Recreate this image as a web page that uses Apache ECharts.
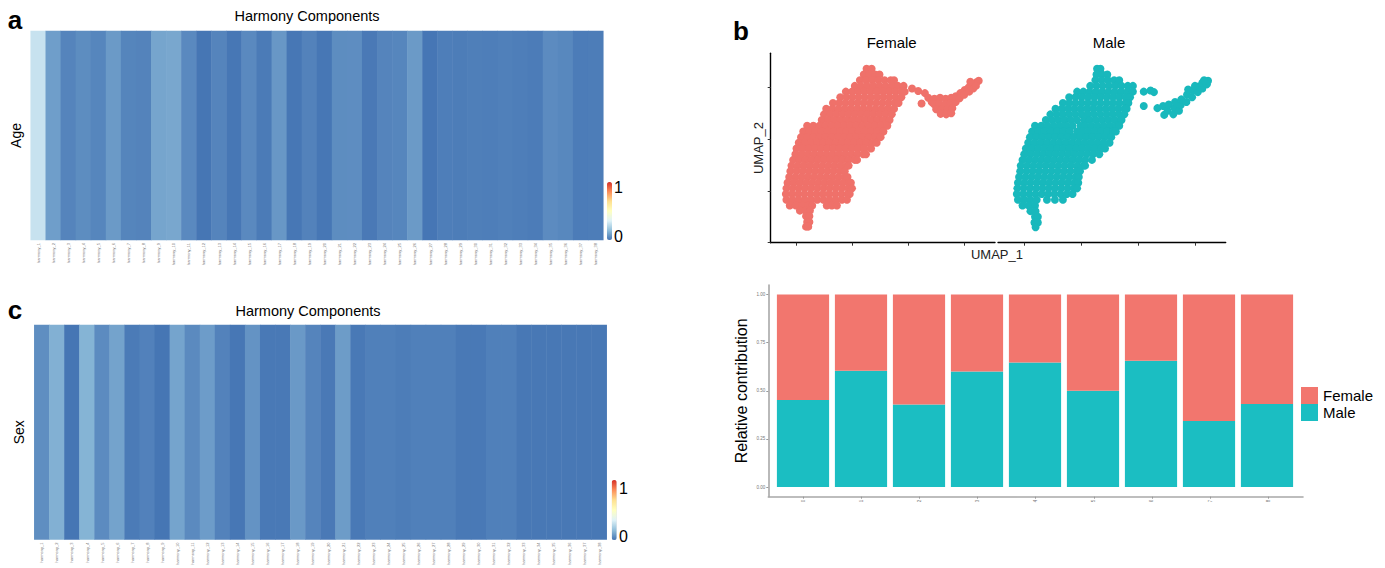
<!DOCTYPE html>
<html>
<head>
<meta charset="utf-8">
<title>Harmony components / UMAP by sex</title>
<script src="https://cdn.jsdelivr.net/npm/echarts@6.0.0/dist/echarts.min.js"></script>
<style>
    html, body { margin: 0; padding: 0; background: #fff; }
    #chart { width: 1385px; height: 568px; }
</style>
</head>
<body>
<div id="chart"></div>
<script>
// 横轴标签：harmony 成分
const componentLabels = [
    "harmony_1", "harmony_2", "harmony_3", "harmony_4", "harmony_5", "harmony_6", "harmony_7",
    "harmony_8", "harmony_9", "harmony_10", "harmony_11", "harmony_12", "harmony_13", "harmony_14",
    "harmony_15", "harmony_16", "harmony_17", "harmony_18", "harmony_19", "harmony_20", "harmony_21",
    "harmony_22", "harmony_23", "harmony_24", "harmony_25", "harmony_26", "harmony_27", "harmony_28",
    "harmony_29", "harmony_30", "harmony_31", "harmony_32", "harmony_33", "harmony_34", "harmony_35",
    "harmony_36", "harmony_37", "harmony_38"
];

// 每个成分与 Age / Sex 的关联 (0 ~ 1)
const ageValues = [
    0.28, 0.093, 0.034, 0.053, 0.038, 0.083, 0.036, 0.032, 0.107, 0.113,
    0.046, 0.002, 0.034, 0.005, 0.046, 0.013, 0.077, 0.004, 0.03, 0.004,
    0.053, 0.055, 0.01, 0.034, 0.038, 0.083, 0.003, 0.02, 0.018, 0.022,
    0.02, 0.024, 0.02, 0.015, 0.05, 0.042, 0.016, 0.017
];
const sexValues = [
    0.057, 0.133, 0.002, 0.141, 0.05, 0.103, 0.013, 0.028, 0.002, 0.105,
    0.048, 0.088, 0.03, 0.004, 0.068, 0.008, 0.008, 0.082, 0.034, 0.01,
    0.087, 0.008, 0.025, 0.025, 0.018, 0.024, 0.024, 0.024, 0.008, 0.008,
    0.025, 0.025, 0.006, 0.006, 0.006, 0.006, 0.006, 0.006
];

// UMAP 细胞坐标，按行记录：[UMAP_2, UMAP_1, UMAP_1, ...]
const femaleRows = [
    [6.8, -3.75, -3.3],
    [6.25, -4.0, -3.5, -3.0, -2.6],
    [5.7, -4.35, -3.8, -3.25, -2.7, -2.15, -1.6, -1.3],
    [5.15, -4.8, -4.25, -3.7, -3.15, -2.6, -2.05, -1.5, -0.95, -0.45],
    [4.6, -5.6, -5.05, -4.5, -3.95, -3.4, -2.85, -2.3, -1.75, -1.2, -0.65, -0.35],
    [4.05, -6.1, -5.55, -5.0, -4.45, -3.9, -3.35, -2.8, -2.25, -1.7, -1.15, -0.65],
    [3.5, -6.75, -6.2, -5.65, -5.1, -4.55, -4.0, -3.45, -2.9, -2.35, -1.8, -1.25, -0.9],
    [2.95, -7.35, -6.8, -6.25, -5.7, -5.15, -4.6, -4.05, -3.5, -2.95, -2.4, -1.85, -1.3],
    [2.4, -7.55, -7.0, -6.45, -5.9, -5.35, -4.8, -4.25, -3.7, -3.15, -2.6, -2.05, -1.5],
    [1.85, -7.75, -7.2, -6.65, -6.1, -5.55, -5.0, -4.45, -3.9, -3.35, -2.8, -2.25, -1.7],
    [1.3, -9.05, -8.5, -7.95, -7.4, -6.85, -6.3, -5.75, -5.2, -4.65, -4.1, -3.55, -3.0, -2.45, -1.9],
    [0.75, -9.4, -8.85, -8.3, -7.75, -7.2, -6.65, -6.1, -5.55, -5.0, -4.45, -3.9, -3.35, -2.8, -2.25],
    [0.2, -9.6, -9.05, -8.5, -7.95, -7.4, -6.85, -6.3, -5.75, -5.2, -4.65, -4.1, -3.55, -3.0, -2.5],
    [-0.35, -9.8, -9.25, -8.7, -8.15, -7.6, -7.05, -6.5, -5.95, -5.4, -4.85, -4.3, -3.75, -3.2, -2.85],
    [-0.9, -10.0, -9.45, -8.9, -8.35, -7.8, -7.25, -6.7, -6.15, -5.6, -5.05, -4.5, -3.95, -3.35],
    [-1.45, -10.1, -9.55, -9.0, -8.45, -7.9, -7.35, -6.8, -6.25, -5.7, -5.15, -4.6, -4.05, -3.8],
    [-2.0, -10.3, -9.75, -9.2, -8.65, -8.1, -7.55, -7.0, -6.45, -5.9, -5.35, -4.8, -4.6],
    [-2.55, -10.45, -9.9, -9.35, -8.8, -8.25, -7.7, -7.15, -6.6, -6.05, -5.5, -5.35],
    [-3.1, -10.55, -10.0, -9.45, -8.9, -8.35, -7.8, -7.25, -6.7, -6.15, -5.7],
    [-3.65, -10.65, -10.1, -9.55, -9.0, -8.45, -7.9, -7.35, -6.8, -6.25, -5.7, -5.45],
    [-4.2, -10.8, -10.25, -9.7, -9.15, -8.6, -8.05, -7.5, -6.95, -6.4, -5.85, -5.3, -5.15],
    [-4.75, -10.9, -10.35, -9.8, -9.25, -8.7, -8.15, -7.6, -7.05, -6.5, -5.95, -5.4, -5.05],
    [-5.3, -10.95, -10.4, -9.85, -9.3, -8.75, -8.2, -7.65, -7.1, -6.55, -6.0, -5.45, -5.25],
    [-5.85, -10.9, -10.35, -9.8, -9.25, -8.7, -8.15, -7.6, -7.05, -6.5, -5.95, -5.5],
    [-6.4, -10.6, -10.05, -9.5, -8.95, -8.6, -7.3, -6.85, -6.4],
    [-6.9, -9.7, -9.2, -8.8],
    [-7.45, -9.15, -8.85],
    [-8.0, -9.05, -8.85],
    [-8.45, -9.15, -8.95]
];
const femaleIsland = [
    [0.3, 4.9], [0.85, 4.65], [1.45, 4.45], [1.15, 3.45], [1.75, 4.0], [2.05, 3.6],
    [2.3, 3.9], [2.8, 4.0], [3.3, 3.9], [3.8, 4.0],
    [2.25, 3.4], [2.75, 3.4], [3.25, 3.4], [3.75, 3.5], [4.2, 3.6],
    [2.45, 2.9], [2.95, 2.9], [3.45, 2.9], [3.9, 3.0],
    [2.85, 2.45], [3.35, 2.4], [3.8, 2.5],
    [4.2, 4.15], [4.6, 4.45], [4.55, 3.95], [5.0, 4.75], [4.95, 4.3], [5.35, 5.0],
    [5.4, 4.6], [5.7, 5.3], [5.75, 4.9], [6.05, 5.5], [6.25, 5.65], [5.5, 5.55], [6.0, 5.15]
];
const maleRows = [
    [6.8, -3.6, -3.3],
    [6.25, -3.65, -3.15, -2.7],
    [5.7, -3.75, -3.2, -2.65, -2.1, -1.65],
    [5.15, -4.2, -3.65, -3.1, -2.55, -2.0, -1.45, -0.9, -0.45],
    [4.6, -5.35, -4.8, -4.25, -3.7, -3.15, -2.6, -2.05, -1.5, -0.95, -0.45],
    [4.05, -6.05, -5.5, -4.95, -4.4, -3.85, -3.3, -2.75, -2.2, -1.65, -1.1, -0.7],
    [3.5, -6.6, -6.05, -5.5, -4.95, -4.4, -3.85, -3.3, -2.75, -2.2, -1.65, -1.1, -0.85],
    [2.95, -7.25, -6.7, -6.15, -5.6, -5.05, -4.5, -3.95, -3.4, -2.85, -2.3, -1.75, -1.2, -1.0],
    [2.4, -7.7, -7.15, -6.6, -6.05, -5.5, -4.95, -4.4, -3.85, -3.3, -2.75, -2.2, -1.65, -1.2],
    [1.85, -8.1, -7.55, -7.0, -6.45, -5.9, -5.35, -4.7, -4.25, -3.7, -3.15, -2.6, -2.05, -1.45],
    [1.3, -9.05, -8.5, -7.95, -7.4, -6.85, -6.3, -5.75, -5.05, -4.65, -4.1, -3.55, -3.0, -2.45, -1.9, -1.65],
    [0.75, -9.3, -8.75, -8.2, -7.65, -7.1, -6.55, -6.0, -5.35, -4.9, -4.35, -3.8, -3.25, -2.7, -2.15, -1.95],
    [0.2, -9.5, -8.95, -8.4, -7.85, -7.3, -6.75, -6.2, -5.65, -5.1, -4.55, -4.0, -3.45, -2.9, -2.35],
    [-0.35, -9.65, -9.1, -8.55, -8.0, -7.45, -6.9, -6.35, -5.8, -5.25, -4.7, -4.15, -3.6, -3.05, -2.5],
    [-0.9, -9.85, -9.3, -8.75, -8.2, -7.65, -7.1, -6.55, -6.0, -5.45, -4.9, -4.35, -3.8, -3.25, -2.9],
    [-1.45, -10.0, -9.45, -8.9, -8.35, -7.8, -7.25, -6.7, -6.15, -5.6, -5.05, -4.5, -3.95, -3.4],
    [-2.0, -10.15, -9.6, -9.05, -8.5, -7.95, -7.4, -6.85, -6.3, -5.75, -5.2, -4.65, -4.05],
    [-2.55, -10.3, -9.75, -9.2, -8.65, -8.1, -7.55, -7.0, -6.45, -5.9, -5.35, -4.8, -4.65],
    [-3.1, -10.35, -9.8, -9.25, -8.7, -8.15, -7.6, -7.05, -6.5, -5.95, -5.4, -5.1],
    [-3.65, -10.45, -9.9, -9.35, -8.8, -8.25, -7.7, -7.15, -6.6, -6.05, -5.5, -5.2],
    [-4.2, -10.55, -10.0, -9.45, -8.9, -8.35, -7.8, -7.25, -6.7, -6.15, -5.6, -5.25],
    [-4.75, -10.6, -10.05, -9.5, -8.95, -8.4, -7.85, -7.3, -6.75, -6.2, -5.65, -5.35],
    [-5.3, -10.65, -10.1, -9.55, -9.0, -8.45, -7.9, -7.35, -6.8, -6.25, -5.75],
    [-5.85, -10.55, -10.0, -9.45, -8.9, -8.0, -7.3, -6.6],
    [-6.4, -10.15, -9.6, -9.05],
    [-6.95, -9.45, -9.0],
    [-7.5, -9.05, -8.8],
    [-8.05, -9.1, -8.8],
    [-8.5, -9.0]
];
const maleIsland = [
    [0.5, 4.6], [1.1, 4.7], [1.4, 4.55], [0.5, 3.2], [2.3, 2.35],
    [1.7, 3.0], [2.2, 3.2], [2.6, 2.75], [3.1, 2.4], [2.7, 3.35], [3.2, 3.0], [3.6, 2.75],
    [3.25, 3.6], [3.75, 3.3], [3.8, 3.85], [4.25, 3.6], [4.3, 4.3], [4.75, 4.05],
    [4.8, 4.7], [5.25, 4.55], [5.3, 5.1], [5.65, 4.9], [5.65, 5.45], [6.05, 5.3],
    [6.15, 5.65], [5.8, 5.7], [4.4, 4.8], [5.0, 5.15]
];

// 各 cluster 中男女细胞占比
const clusterIds = [0, 1, 2, 3, 4, 5, 6, 7, 8];
const clusterNames = ["0", "1", "2", "3", "4", "5", "6", "7", "8"];
const maleShare = [0.453, 0.605, 0.429, 0.6, 0.647, 0.5, 0.656, 0.343, 0.432];
const femaleShare = [0.547, 0.395, 0.571, 0.4, 0.353, 0.5, 0.344, 0.657, 0.568];
const shareTicks = [0, 0.25, 0.5, 0.75, 1];
const umapTicksX = [-10, -5, 0, 5];
const umapTicksY = [-10, -5, 0, 5];

const FONT = "\"Liberation Sans\", Arial, sans-serif";
const heatColors = ["#4575B4", "#91BFDB", "#E0F3F8", "#FFFFBF", "#FEE090", "#FC8D59", "#D73027"];
const femaleColor = "#EF716A";
const maleColor = "#18B8BC";

const rowsToPoints = rows => {
    let pts = [];
    rows.forEach(row => {
        for (let i = 1; i < row.length; i++) {
            pts.push([row[i], row[0]]);
        }
    });
    return pts;
};

const heatData = values => values.map((v, i) => [i, 0, v]);

const label = (text, x, y, font, extra) => {
    return {
        type: "text",
        x: x,
        y: y,
        silent: true,
        style: Object.assign({
            text: text,
            font: font + " " + FONT,
            fill: "#000",
            align: "center",
            verticalAlign: "middle"
        }, extra || {})
    };
};

const heatXAxis = gridIndex => ({
    type: "category",
    gridIndex: gridIndex,
    data: componentLabels,
    axisLine: { show: false },
    axisTick: { show: false },
    splitArea: { show: false },
    axisLabel: { rotate: 90, fontSize: 4, color: "#777", interval: 0, margin: 3, fontFamily: FONT }
});

const heatYAxis = (gridIndex, name) => ({
    type: "category",
    gridIndex: gridIndex,
    data: [name],
    axisLine: { show: false },
    axisTick: { show: false },
    axisLabel: { show: false },
    name: name,
    nameLocation: "middle",
    nameGap: 8,
    nameRotate: 90,
    nameTextStyle: { fontSize: 14, color: "#000", fontFamily: FONT }
});

const umapXAxis = gridIndex => ({
    type: "value",
    gridIndex: gridIndex,
    min: -12.3,
    max: 7.7,
    splitLine: { show: false },
    axisLine: { show: true, onZero: false, lineStyle: { color: "#000", width: 1.4 } },
    axisTick: { show: true, customValues: umapTicksX, length: 3, lineStyle: { color: "#333", width: 1 } },
    axisLabel: { show: false }
});

const chart = echarts.init(document.getElementById("chart"), null, { renderer: "svg" });

const option = {
    animation: false,
    backgroundColor: "#fff",
    textStyle: { fontFamily: FONT },
    grid: [
        { left: 30.7, top: 31, width: 572.6, height: 209 },
        { left: 34.3, top: 325, width: 572.4, height: 214.5 },
        { left: 770.7, top: 53.3, width: 224.3, height: 189.4 },
        { left: 998, top: 53.3, width: 227.7, height: 189.4 },
        // 条形图的坐标轴（ggplot 两侧各留 0.6 个类目）
        { left: 768.3, top: 285, width: 534.7, height: 211.7 },
        // 条形本身所在的区域
        { left: 774, top: 285, width: 522, height: 211.7 }
    ],
    xAxis: [
        heatXAxis(0),
        heatXAxis(1),
        umapXAxis(2),
        umapXAxis(3),
        {
            type: "value",
            gridIndex: 4,
            min: -0.6,
            max: 8.6,
            splitLine: { show: false },
            axisLine: { show: true, onZero: false, lineStyle: { color: "#a8a8a8", width: 1.6 } },
            axisTick: { show: true, customValues: clusterIds, length: 2, lineStyle: { color: "#999" } },
            axisLabel: { customValues: clusterIds, rotate: 90, fontSize: 4.5, color: "#777", margin: 3 }
        },
        {
            type: "category",
            gridIndex: 5,
            data: clusterNames,
            show: false
        }
    ],
    yAxis: [
        heatYAxis(0, "Age"),
        heatYAxis(1, "Sex"),
        {
            type: "value",
            gridIndex: 2,
            min: -10,
            max: 8.3,
            splitLine: { show: false },
            axisLine: { show: true, onZero: false, lineStyle: { color: "#000", width: 1.4 } },
            axisTick: { show: true, customValues: umapTicksY, length: 3, lineStyle: { color: "#333", width: 1 } },
            axisLabel: { show: false },
            name: "UMAP_2",
            nameLocation: "middle",
            nameGap: 6,
            nameRotate: 90,
            nameTextStyle: { fontSize: 13, color: "#222" }
        },
        {
            type: "value",
            gridIndex: 3,
            min: -10,
            max: 8.3,
            show: false
        },
        {
            type: "value",
            gridIndex: 4,
            min: -0.05,
            max: 1.05,
            splitLine: { show: false },
            axisLine: { show: true, onZero: false, lineStyle: { color: "#a8a8a8", width: 1.6 } },
            axisTick: { show: true, customValues: shareTicks, length: 2, lineStyle: { color: "#999" } },
            axisLabel: {
                customValues: shareTicks,
                fontSize: 4.5,
                color: "#777",
                margin: 3,
                formatter: v => v.toFixed(2)
            },
            name: "Relative contribution",
            nameLocation: "middle",
            nameGap: 19,
            nameRotate: 90,
            nameTextStyle: { fontSize: 16, color: "#000" }
        },
        {
            type: "value",
            gridIndex: 5,
            min: -0.05,
            max: 1.05,
            show: false
        }
    ],
    visualMap: [
        {
            type: "continuous",
            seriesIndex: 0,
            min: 0,
            max: 1,
            calculable: false,
            inRange: { color: heatColors },
            left: 607,
            top: 182,
            itemWidth: 5,
            itemHeight: 58,
            padding: 0,
            text: null
        },
        {
            type: "continuous",
            seriesIndex: 1,
            min: 0,
            max: 1,
            calculable: false,
            inRange: { color: heatColors },
            left: 611.7,
            top: 480,
            itemWidth: 5,
            itemHeight: 60,
            padding: 0,
            text: null
        }
    ],
    legend: {
        data: ["Female", "Male"],
        orient: "vertical",
        left: 1301,
        top: 387,
        padding: 0,
        itemWidth: 17,
        itemHeight: 17,
        itemGap: 0,
        icon: "rect",
        selectedMode: false,
        textStyle: { fontSize: 15, color: "#000" }
    },
    graphic: [
        label("a", 15, 20, "bold 26px"),
        label("b", 741, 31, "bold 26px"),
        label("c", 15, 310, "bold 26px"),
        label("Harmony Components", 307, 16, "14.5px"),
        label("Harmony Components", 308, 311, "14.5px"),
        label("1", 614, 187, "16px", { align: "left" }),
        label("0", 614, 236, "16px", { align: "left" }),
        label("1", 619, 488, "16px", { align: "left" }),
        label("0", 619, 536, "16px", { align: "left" }),
        label("Female", 891.7, 42, "15px"),
        label("Male", 1109, 42, "15px"),
        label("UMAP_1", 997, 254, "13px", { fill: "#222" })
    ],
    series: [
        {
            name: "Age",
            type: "heatmap",
            xAxisIndex: 0,
            yAxisIndex: 0,
            data: heatData(ageValues),
            itemStyle: { borderWidth: 0 },
            emphasis: { disabled: true },
            silent: true
        },
        {
            name: "Sex",
            type: "heatmap",
            xAxisIndex: 1,
            yAxisIndex: 1,
            data: heatData(sexValues),
            itemStyle: { borderWidth: 0 },
            emphasis: { disabled: true },
            silent: true
        },
        {
            name: "Female cells",
            type: "scatter",
            xAxisIndex: 2,
            yAxisIndex: 2,
            symbolSize: 8,
            data: rowsToPoints(femaleRows).concat(femaleIsland),
            itemStyle: { color: femaleColor, opacity: 1 },
            silent: true
        },
        {
            name: "Male cells",
            type: "scatter",
            xAxisIndex: 3,
            yAxisIndex: 3,
            symbolSize: 8,
            data: rowsToPoints(maleRows).concat(maleIsland),
            itemStyle: { color: maleColor, opacity: 1 },
            silent: true
        },
        {
            name: "Male",
            type: "bar",
            xAxisIndex: 5,
            yAxisIndex: 5,
            stack: "share",
            barWidth: "90%",
            data: maleShare,
            itemStyle: { color: "#1BBEC2" },
            silent: true
        },
        {
            name: "Female",
            type: "bar",
            xAxisIndex: 5,
            yAxisIndex: 5,
            stack: "share",
            barWidth: "90%",
            data: femaleShare,
            itemStyle: { color: "#F2766E" },
            silent: true
        }
    ]
};

chart.setOption(option);
console.log("done");
</script>
</body>
</html>
